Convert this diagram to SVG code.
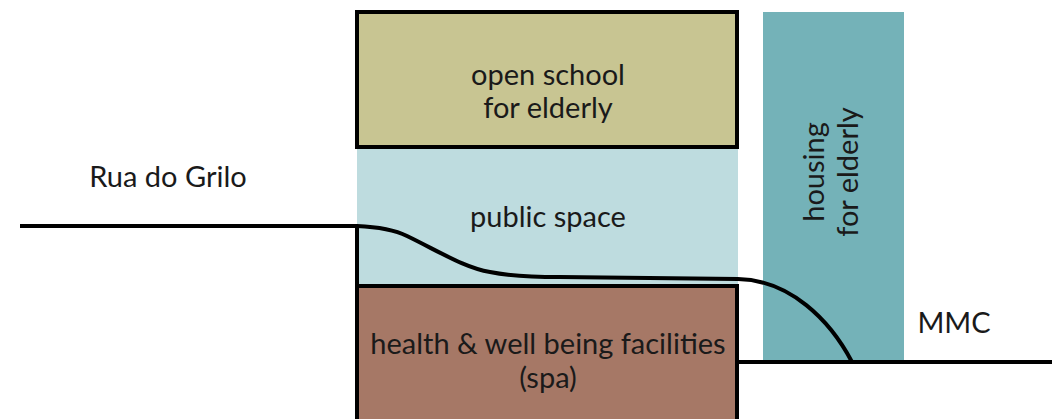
<svg xmlns="http://www.w3.org/2000/svg" width="1052" height="419" viewBox="0 0 1052 419">
<style>
text{font-family:Lato,"Open Sans","Liberation Sans",sans-serif;font-size:29px;fill:#1a1a1a;text-anchor:middle}
.box{stroke:#000;stroke-width:4}
.ground{fill:none;stroke:#000;stroke-width:4;stroke-linejoin:round}
</style>
<rect width="1052" height="419" fill="#fff"/>
<g id="public-space">
<rect x="357" y="148" width="381" height="137" fill="#BEDCDF"/>
<text x="548" y="227">public space</text>
</g>
<g id="housing">
<rect x="763" y="12" width="141" height="349" fill="#74B2B8"/>
<text transform="translate(824,172) rotate(-90)">housing</text>
<text transform="translate(858,172) rotate(-90)">for elderly</text>
</g>
<g id="open-school">
<rect class="box" x="357" y="12" width="380" height="135" fill="#C8C592"/>
<text x="548" y="85">open school</text>
<text x="548" y="118">for elderly</text>
</g>
<g id="spa">
<rect class="box" x="357" y="286" width="380" height="160" fill="#A67866"/>
<text x="548" y="354">health &amp; well being facilities</text>
<text x="548" y="388">(spa)</text>
</g>
<g id="labels">
<text x="168" y="187">Rua do Grilo</text>
<text x="954" y="333">MMC</text>
</g>
<g id="connectors">
<path class="ground" d="M20,226 L357,226 C380,227 395,230 407,236 C440,252 465,268 490,272 C510,276 530,277 560,277 L738,279 C790,280 830,320 852,362"/>
<line class="ground" x1="357" y1="226" x2="357" y2="286"/>
<line class="ground" x1="737" y1="362" x2="1052" y2="362"/>
</g>
</svg>
